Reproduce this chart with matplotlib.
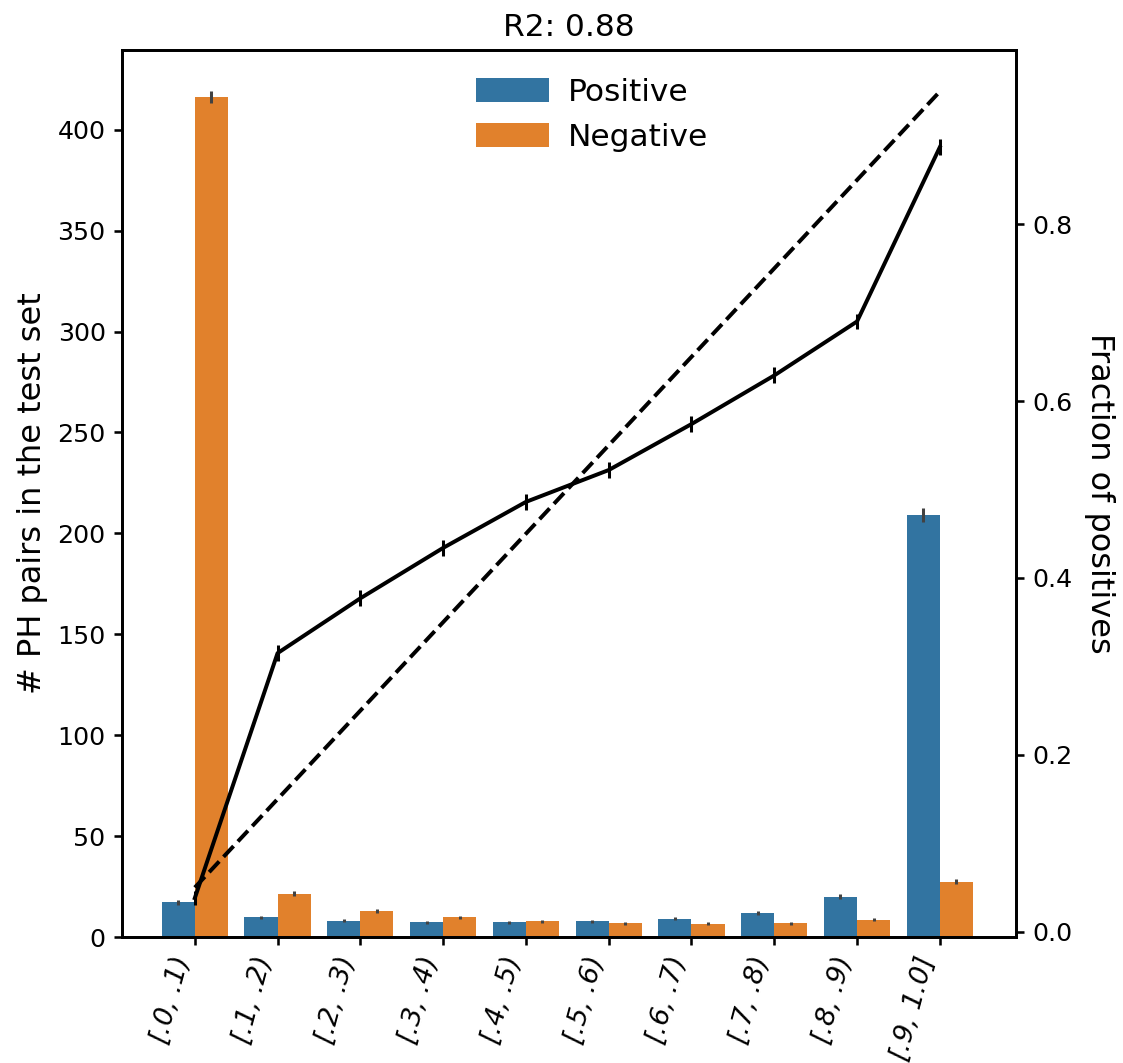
import numpy as np
import matplotlib
matplotlib.use("Agg")
import matplotlib.pyplot as plt

# Score bins
bins = ["[.0, .1)", "[.1, .2)", "[.2, .3)", "[.3, .4)", "[.4, .5)",
        "[.5, .6)", "[.6, .7)", "[.7, .8)", "[.8, .9)", "[.9, 1.0]"]

# Counts of PH pairs per bin
positive = [17.3, 9.7, 8.1, 7.4, 7.4, 7.9, 9.1, 12.0, 20.0, 209.2]
negative = [416.2, 21.5, 12.9, 9.8, 7.8, 6.9, 6.6, 6.8, 8.6, 27.4]
positive_err = [1.2, 0.8, 0.7, 0.7, 0.7, 0.7, 0.8, 0.9, 1.1, 3.6]
negative_err = [3.0, 1.2, 0.9, 0.8, 0.7, 0.7, 0.7, 0.7, 0.8, 1.3]

# Observed fraction of positives per bin
fraction = [0.038, 0.315, 0.377, 0.434, 0.486, 0.522, 0.574, 0.629, 0.690, 0.887]
fraction_err = [0.008, 0.009, 0.009, 0.009, 0.009, 0.009, 0.009, 0.009, 0.009, 0.009]

# Ideal calibration: bin midpoints
ideal = [0.05, 0.15, 0.25, 0.35, 0.45, 0.55, 0.65, 0.75, 0.85, 0.95]

r2_text = "R2: 0.88"

DPI = 168
plt.rcParams["axes.linewidth"] = 1.2
plt.rcParams["xtick.major.width"] = 1.1
plt.rcParams["ytick.major.width"] = 1.1

fig = plt.figure(figsize=(1123 / DPI, 1063 / DPI), dpi=DPI)
ax = fig.add_axes([0.1086, 0.1185, 0.7961, 0.8345])

x = np.arange(len(bins))
w = 0.4
blue = "#3274a1"
orange = "#e1812c"
err_kw = dict(ecolor="#424242", elinewidth=1.3, capsize=0)

ax.bar(x - w / 2, positive, width=w, color=blue, yerr=positive_err,
       error_kw=err_kw, label="Positive")
ax.bar(x + w / 2, negative, width=w, color=orange, yerr=negative_err,
       error_kw=err_kw, label="Negative")

ax.set_xlim(-0.88, 9.92)
ax.set_ylim(0, 439.5)
ax.set_xticks(x)
ax.set_xticklabels(bins, rotation=75, ha="right", style="italic", fontsize=11.6)
ax.tick_params(axis="y", labelsize=10.8)
ax.set_ylabel("# PH pairs in the test set", fontsize=13.7)
ax.set_title(r2_text, fontsize=13.4)

ax.legend(loc="upper center", bbox_to_anchor=(0.526, 1.0), frameon=False,
          fontsize=13.4, handlelength=2.35, handleheight=0.8,
          handletextpad=0.6)

ax2 = ax.twinx()
ax2.errorbar(x, fraction, yerr=fraction_err, color="black", lw=1.7,
             ecolor="black", elinewidth=1.3, capsize=0)
ax2.plot(x, ideal, color="black", lw=1.7, ls="--")
ax2.set_ylim(-0.006, 0.997)
ax2.set_yticks([0.0, 0.2, 0.4, 0.6, 0.8])
ax2.tick_params(axis="y", labelsize=10.8)
ax2.set_ylabel("Fraction of positives", rotation=270, labelpad=18, fontsize=13.7)

fig.savefig("out.png", dpi=DPI)
